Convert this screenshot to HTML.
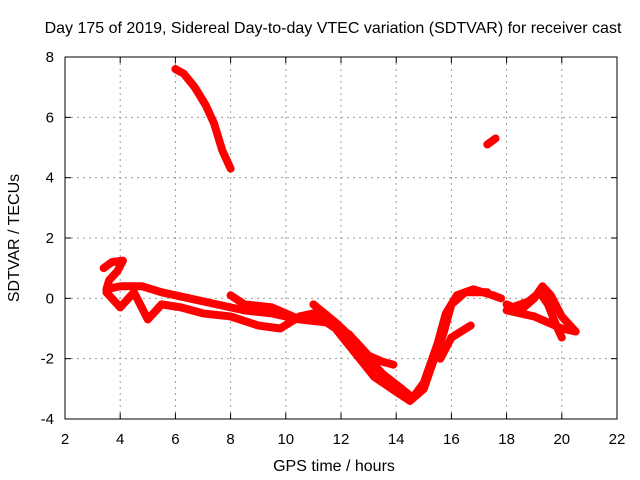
<!DOCTYPE html>
<html><head><meta charset="utf-8"><style>
body{margin:0;background:#fff;}
svg{display:block;font-family:"Liberation Sans",sans-serif;}
</style></head><body>
<svg id="chart" width="640" height="480" xmlns="http://www.w3.org/2000/svg">
<rect width="640" height="480" fill="#fff"/>
<text x="333" y="33" font-size="16" text-anchor="middle">Day 175 of 2019, Sidereal Day-to-day VTEC variation (SDTVAR) for receiver cast</text>
<g id="grid"></g><g id="ticks"></g><g id="series"></g>
<rect x="65" y="57" width="552" height="362" fill="none" stroke="#000" stroke-width="1"/>
<text x="334" y="471" font-size="16" text-anchor="middle">GPS time / hours</text>
<text x="19" y="238" font-size="16" text-anchor="middle" transform="rotate(-90 19 238)">SDTVAR / TECUs</text>
</svg>
<script>
const xTicks=[2,4,6,8,10,12,14,16,18,20,22];
const yTicks=[-4,-2,0,2,4,6,8];
const trackTop=[[6.0,7.6],[6.3,7.45],[6.7,7.0],[7.1,6.4],[7.4,5.8],[7.7,4.9],[8.0,4.3]];
const trackIso=[[17.3,5.1],[17.6,5.3]];
const trackUpper=[[3.4,1.0],[3.7,1.2],[4.1,1.25],[3.9,0.9],[3.6,0.6],[3.5,0.3],[4.0,0.4],[4.8,0.4],[5.5,0.2],[6.5,0.0],[7.5,-0.2],[8.5,-0.4],[9.5,-0.5],[10.5,-0.7],[11.5,-0.8],[12.3,-1.2],[13.0,-2.0],[13.5,-2.5],[14.2,-3.0],[14.6,-3.3],[15.0,-2.8],[15.5,-1.5],[15.8,-0.5],[16.2,0.1],[16.8,0.3],[17.5,0.1],[17.8,0.0]];
const trackLower=[[3.5,0.2],[4.0,-0.3],[4.5,0.2],[5.0,-0.7],[5.5,-0.2],[6.2,-0.3],[7.0,-0.5],[8.0,-0.6],[9.0,-0.9],[9.8,-1.0],[10.5,-0.6],[11.0,-0.5],[11.8,-1.0],[12.5,-1.8],[13.2,-2.6],[14.0,-3.1],[14.5,-3.4],[15.0,-3.0],[15.3,-2.2],[15.7,-1.2],[16.0,-0.2],[16.5,0.2],[17.3,0.2]];
const trackMidA=[[8.0,0.1],[8.5,-0.2],[9.5,-0.3],[10.0,-0.5],[10.5,-0.7]];
const trackMidB=[[11.0,-0.2],[11.8,-0.8],[12.5,-1.4],[13.0,-1.9],[13.5,-2.1],[13.9,-2.2]];
const trackMidC=[[15.6,-2.0],[16.0,-1.3],[16.7,-0.9]];
const trackR1=[[18.0,-0.2],[18.5,-0.4],[19.0,0.0],[19.3,0.4],[19.6,0.1],[20.0,-0.6],[20.5,-1.1]];
const trackR2=[[18.2,-0.3],[18.8,-0.1],[19.2,0.2],[19.5,-0.2],[19.8,-0.9],[20.0,-1.3]];
const trackR3=[[18.0,-0.4],[19.0,-0.6],[20.0,-1.0],[20.5,-1.1]];
const tracks=[trackTop,trackIso,trackUpper,trackLower,trackMidA,trackMidB,trackMidC,trackR1,trackR2,trackR3];
const NS="http://www.w3.org/2000/svg";
const X0=65,X1=617,Y0=419,Y1=57;
function sx(h){return X0+(h-2)/(22-2)*(X1-X0);}
function sy(v){return Y0-(v+4)/(8+4)*(Y0-Y1);}
const grid=document.getElementById('grid'),ticks=document.getElementById('ticks'),series=document.getElementById('series');
function mk(tag,attrs,parent){const e=document.createElementNS(NS,tag);for(const k in attrs)e.setAttribute(k,attrs[k]);parent.appendChild(e);return e;}
xTicks.forEach(t=>{const x=sx(t);
 if(t>2&&t<22){const g=mk('line',{x1:x,x2:x,y1:Y0,y2:Y1,stroke:'#999','stroke-dasharray':'2,4'},grid);
 
 }
 mk('line',{x1:x,x2:x,y1:Y0,y2:Y0-6,stroke:'#000'},ticks);mk('line',{x1:x,x2:x,y1:Y1,y2:Y1+6,stroke:'#000'},ticks);
 const l=mk('text',{x:x,y:Y0+25,'font-size':15,'text-anchor':'middle'},ticks);l.textContent=t;
 
 });
yTicks.forEach(t=>{const y=sy(t);
 if(t>-4&&t<8){const g=mk('line',{x1:X0,x2:X1,y1:y,y2:y,stroke:'#999','stroke-dasharray':'2,4'},grid);
 
 }
 mk('line',{x1:X0,x2:X0+6,y1:y,y2:y,stroke:'#000'},ticks);mk('line',{x1:X1,x2:X1-6,y1:y,y2:y,stroke:'#000'},ticks);
 const l=mk('text',{x:X0-11,y:y+5,'font-size':15,'text-anchor':'end'},ticks);l.textContent=t;
 
 });
tracks.forEach(tr=>{const p=mk('polyline',{points:tr.map(d=>sx(d[0])+','+sy(d[1])).join(' '),fill:'none',stroke:'#f00','stroke-width':8,'stroke-linejoin':'round','stroke-linecap':'round'},series);
 
 });
</script>
</body></html>
